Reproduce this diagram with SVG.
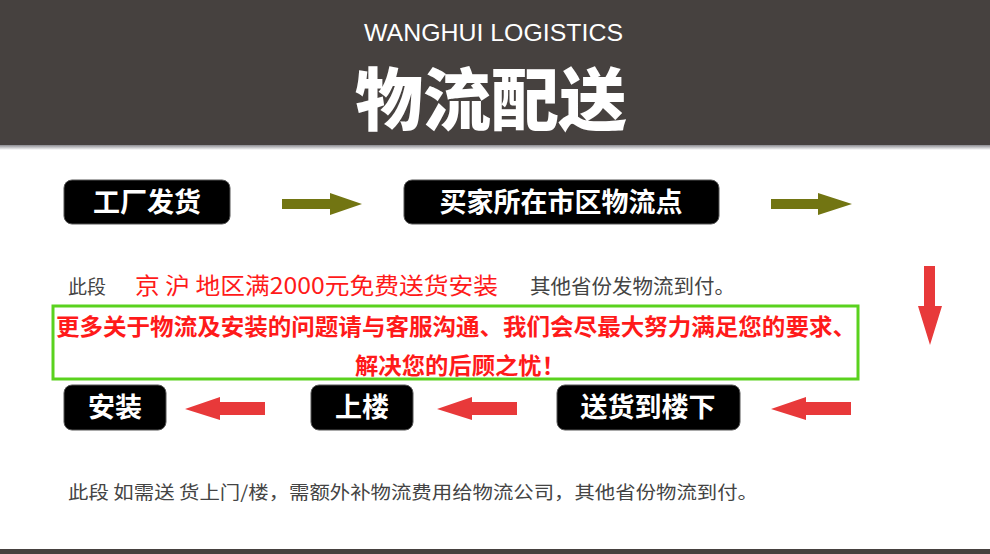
<svg xmlns="http://www.w3.org/2000/svg" width="990" height="554" viewBox="0 0 990 554">
<defs>
<linearGradient id="sh" x1="0" y1="0" x2="0" y2="1"><stop offset="0" stop-color="#8a8a90"/><stop offset="1" stop-color="#ffffff"/></linearGradient>
<style>
.box{fill:#000;stroke:#555;stroke-width:1}
.bt{fill:#fff;font-family:"Noto Sans CJK SC","Noto Sans",sans-serif;font-weight:bold;font-size:27px;text-anchor:middle}
.gray{fill:#444;font-family:"Noto Sans CJK SC","Noto Sans",sans-serif}
.red{fill:#ff1a1a;font-family:"Noto Sans CJK SC","Noto Sans",sans-serif}
.olive{fill:#727512}
.rarr{fill:#e8393a}
</style>
</defs>
<rect width="990" height="554" fill="#fff"/>
<g id="header">
<rect x="0" y="0" width="990" height="145" fill="#46413f"/>
<rect x="0" y="145" width="990" height="5" fill="url(#sh)"/>
<text x="364" y="41" fill="#fff" font-family="Liberation Sans, sans-serif" font-size="24" font-weight="300" textLength="259" lengthAdjust="spacingAndGlyphs">WANGHUI LOGISTICS</text>
<text x="491" y="125" fill="#fff" font-family="Noto Sans CJK SC, sans-serif" font-size="68" font-weight="900" text-anchor="middle">物流配送</text>
</g>
<g id="n1"><rect class="box" x="64" y="180" width="166" height="44" rx="8"/><text class="bt" x="147" y="212">工厂发货</text></g>
<g id="n2"><rect class="box" x="404" y="180" width="315" height="44" rx="8"/><text class="bt" x="561" y="212">买家所在市区物流点</text></g>
<g id="n3"><rect class="box" x="557" y="385" width="183" height="45" rx="8"/><text class="bt" x="648" y="417">送货到楼下</text></g>
<g id="n4"><rect class="box" x="311" y="385" width="102" height="45" rx="8"/><text class="bt" x="362" y="417">上楼</text></g>
<g id="n5"><rect class="box" x="64" y="385" width="102" height="45" rx="8"/><text class="bt" x="115" y="417">安装</text></g>
<g id="connectors">
<polygon class="olive" points="282,199 330,199 330,193 362,204 330,215 330,209 282,209"/>
<polygon class="olive" points="771,199 818,199 818,193 852,204 818,215 818,209 771,209"/>
<polygon class="rarr" points="924,266 935,266 935,306 942,306 930,345 918,306 924,306"/>
<polygon class="rarr" points="851,402 806,402 806,397 771,409 806,420 806,415 851,415"/>
<polygon class="rarr" points="517,402 472,402 472,397 437,409 472,420 472,415 517,415"/>
<polygon class="rarr" points="265,402 220,402 220,397 185,409 220,420 220,415 265,415"/>
</g>
<g id="notes">
<text class="gray" x="68" y="294" font-size="19">此段</text>
<text class="red" x="135" y="294" font-size="23" textLength="363" lengthAdjust="spacingAndGlyphs">京 沪 地区满2000元免费送货安装</text>
<text class="gray" x="530" y="294" font-size="20" textLength="205" lengthAdjust="spacingAndGlyphs">其他省份发物流到付。</text>
<rect x="53" y="306" width="805" height="73" fill="none" stroke="#5ad21e" stroke-width="3"/>
<text class="red" x="456" y="335" font-size="22.5" font-weight="bold" text-anchor="middle" textLength="800" lengthAdjust="spacingAndGlyphs">更多关于物流及安装的问题请与客服沟通、我们会尽最大努力满足您的要求、</text>
<text class="red" x="355" y="374" font-size="22.5" font-weight="bold" textLength="210" lengthAdjust="spacingAndGlyphs">解决您的后顾之忧！</text>
<text class="gray" x="68" y="499" font-size="18" textLength="690" lengthAdjust="spacingAndGlyphs">此段 如需送 货上门/楼，需额外补物流费用给物流公司，其他省份物流到付。</text>
</g>
<rect x="0" y="549" width="990" height="5" fill="#46413f"/>
</svg>
